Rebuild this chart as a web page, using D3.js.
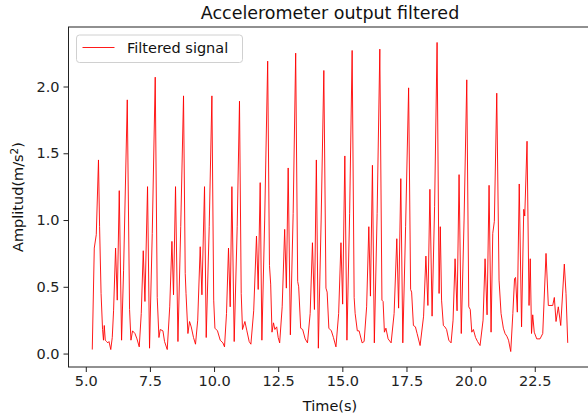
<!DOCTYPE html>
<html>
<head>
<meta charset="utf-8">
<script src="https://cdn.jsdelivr.net/npm/d3@7"></script>
<style>
  html, body { margin: 0; padding: 0; background: #fff; }
  svg { display: block; font-family: "DejaVu Sans", sans-serif; }
</style>
</head>
<body>
<svg id="chart" width="588" height="418"></svg>
<script>
// Filtered accelerometer signal: time (s) and amplitude (m/s²)
const timeS = [
  5.253, 5.331, 5.409, 5.495, 5.538, 5.596, 5.654, 5.690, 5.721, 5.760, 5.810, 5.857, 5.904, 5.974,
  6.032, 6.083, 6.161, 6.227, 6.305, 6.395, 6.473, 6.617, 6.706, 6.761, 6.823, 6.917, 6.995, 7.084,
  7.162, 7.240, 7.306, 7.407, 7.485, 7.591, 7.707, 7.785, 7.852, 7.902, 8.007, 8.070, 8.175,
  8.272, 8.358, 8.420, 8.498, 8.592, 8.701, 8.810, 8.876, 8.907, 8.981, 9.044, 9.110, 9.199, 9.277,
  9.363, 9.460, 9.527, 9.628, 9.694, 9.811, 9.916, 9.986, 10.033, 10.134, 10.240, 10.345, 10.407,
  10.485, 10.563, 10.629, 10.695, 10.785, 10.902, 10.991, 11.058, 11.108, 11.202, 11.280, 11.369, 11.436,
  11.545, 11.654, 11.720, 11.798, 11.864, 11.973, 12.090, 12.160, 12.207, 12.258, 12.316, 12.370, 12.441, 12.499, 12.557,
  12.655, 12.752, 12.818, 12.889, 12.974, 13.083, 13.181, 13.259, 13.298, 13.376, 13.454, 13.551, 13.641,
  13.746, 13.835, 13.913, 13.987, 14.065, 14.174, 14.279, 14.361, 14.408, 14.474, 14.572, 14.653, 14.751,
  14.856, 14.946, 15.012, 15.097, 15.179, 15.284, 15.382, 15.460, 15.499, 15.584, 15.654, 15.771, 15.849,
  15.947, 16.032, 16.095, 16.173, 16.247, 16.356, 16.461, 16.543, 16.589, 16.640, 16.699, 16.784, 16.901,
  17.018, 17.123, 17.193, 17.279, 17.357, 17.466, 17.583, 17.661, 17.700, 17.770, 17.848, 17.914, 18.031,
  18.167, 18.257, 18.335, 18.413, 18.498, 18.596, 18.693, 18.771, 18.818, 18.868, 18.938, 18.997, 19.063, 19.149, 19.238,
  19.316, 19.394, 19.472, 19.550, 19.636, 19.745, 19.850, 19.928, 19.986, 20.045, 20.107, 20.193, 20.271, 20.368,
  20.485, 20.563, 20.641, 20.719, 20.797, 20.863, 20.925, 21.019, 21.108, 21.186, 21.276, 21.342, 21.412, 21.478, 21.564,
  21.646, 21.712, 21.751, 21.821, 21.895, 21.985, 22.071, 22.110, 22.199, 22.277, 22.324, 22.374, 22.421, 22.480, 22.577, 22.706, 22.811,
  22.939, 23.029, 23.200, 23.263, 23.329, 23.418, 23.512, 23.652, 23.718, 23.785
];
const amplitude = [
  0.03, 0.79, 0.89, 1.45, 0.95, 0.45, 0.18, 0.10, 0.21, 0.10, 0.09, 0.08, 0.09, 0.03,
  0.12, 0.32, 0.79, 0.40, 1.22, 0.10, 0.62, 1.90, 0.33, 0.10, 0.17, 0.15, 0.11, 0.05,
  0.30, 0.77, 0.39, 1.25, 0.04, 0.90, 2.07, 0.42, 0.12, 0.18, 0.17, 0.09, 0.03,
  0.35, 0.84, 0.44, 1.25, 0.09, 0.95, 1.93, 0.60, 0.45, 0.15, 0.24, 0.20, 0.12, 0.07,
  0.25, 0.80, 0.44, 1.25, 0.12, 0.95, 1.93, 0.40, 0.19, 0.17, 0.10, 0.08, 0.05,
  0.30, 0.79, 0.35, 1.25, 0.09, 0.95, 1.89, 0.45, 0.18, 0.24, 0.17, 0.09, 0.07,
  0.32, 0.88, 0.48, 1.28, 0.10, 1.00, 2.19, 0.66, 0.52, 0.16, 0.23, 0.18, 0.20, 0.12, 0.08,
  0.35, 0.93, 0.49, 1.39, 0.14, 1.05, 2.25, 0.54, 0.50, 0.19, 0.18, 0.11, 0.08,
  0.30, 0.83, 0.33, 1.45, 0.04, 1.00, 2.12, 0.49, 0.46, 0.19, 0.17, 0.12, 0.05,
  0.30, 0.83, 0.37, 1.48, 0.10, 1.05, 2.27, 0.42, 0.30, 0.17, 0.17, 0.08, 0.09,
  0.35, 0.95, 0.43, 1.41, 0.08, 1.05, 2.28, 0.40, 0.39, 0.16, 0.19, 0.11, 0.08,
  0.30, 0.86, 0.34, 1.31, 0.08, 0.95, 1.99, 0.48, 0.46, 0.21, 0.20, 0.15, 0.06,
  0.28, 0.73, 0.36, 1.23, 0.28, 1.10, 2.33, 0.45, 0.95, 0.40, 0.21, 0.20, 0.18, 0.10, 0.08,
  0.25, 0.71, 0.32, 1.34, 0.15, 1.00, 2.05, 0.35, 0.33, 0.16, 0.18, 0.12, 0.09, 0.06,
  0.25, 0.71, 0.29, 1.26, 0.16, 0.90, 0.99, 1.95, 0.55, 0.30, 0.19, 0.15, 0.13, 0.10, 0.015,
  0.30, 0.56, 0.57, 0.31, 1.27, 0.20, 1.08, 1.03, 1.59, 0.36, 0.71, 0.15, 0.29, 0.16, 0.11, 0.11, 0.15,
  0.75, 0.36, 0.36, 0.42, 0.24, 0.35, 0.21, 0.67, 0.45, 0.08
];
const xTickValues = [5.0, 7.5, 10.0, 12.5, 15.0, 17.5, 20.0, 22.5];
const yTickValues = [0.0, 0.5, 1.0, 1.5, 2.0];
const chartTitle = "Accelerometer output filtered";
const seriesLabel = "Filtered signal";

const svg = d3.select("#chart");
const W = 588, H = 418;
const plot = { left: 68.5, top: 27, right: 591.5, bottom: 367 };

// Axis limits padded 5% beyond the data extent
const pad = ([lo, hi]) => [lo - 0.05 * (hi - lo), hi + 0.05 * (hi - lo)];
const x = d3.scaleLinear().domain(pad(d3.extent(timeS))).range([plot.left, plot.right]);
const y = d3.scaleLinear().domain(pad(d3.extent(amplitude))).range([plot.bottom, plot.top]);

svg.append("rect").attr("width", W).attr("height", H).attr("fill", "#fff");

svg.append("defs").append("clipPath").attr("id", "plotclip")
  .append("rect").attr("x", plot.left).attr("y", plot.top)
  .attr("width", plot.right - plot.left).attr("height", plot.bottom - plot.top);

// Signal trace
const pts = timeS.map((t, i) => [t, amplitude[i]]);
svg.append("path")
  .datum(pts)
  .attr("clip-path", "url(#plotclip)")
  .attr("fill", "none")
  .attr("stroke", "#ff0000")
  .attr("stroke-width", 0.9)
  .attr("stroke-linejoin", "round")
  .attr("d", d3.line().x(d => x(d[0])).y(d => y(d[1])));

// Axes
const tickFont = 14.5;
const xAxis = svg.append("g")
  .attr("transform", `translate(0,${plot.bottom})`)
  .call(d3.axisBottom(x).tickValues(xTickValues).tickFormat(d3.format(".1f")).tickSizeOuter(0).tickSize(5).tickPadding(4));
const yAxis = svg.append("g")
  .attr("transform", `translate(${plot.left},0)`)
  .call(d3.axisLeft(y).tickValues(yTickValues).tickFormat(d3.format(".1f")).tickSizeOuter(0).tickSize(5).tickPadding(4));
[xAxis, yAxis].forEach(g => {
  g.select(".domain").remove();
  g.selectAll(".tick line").attr("stroke", "#222").attr("stroke-width", 1);
  g.selectAll(".tick text").attr("fill", "#222").style("font-size", tickFont + "px")
    .style("font-family", "DejaVu Sans, sans-serif");
});

// Frame (spines)
svg.append("rect")
  .attr("x", plot.left).attr("y", plot.top)
  .attr("width", plot.right - plot.left).attr("height", plot.bottom - plot.top)
  .attr("fill", "none").attr("stroke", "#222").attr("stroke-width", 1);

// Title
svg.append("text")
  .attr("x", (plot.left + plot.right) / 2).attr("y", 19)
  .attr("text-anchor", "middle").attr("fill", "#111")
  .style("font-size", "17.5px")
  .text(chartTitle);

// Axis labels
svg.append("text")
  .attr("x", (plot.left + plot.right) / 2).attr("y", 411)
  .attr("text-anchor", "middle").attr("fill", "#111")
  .style("font-size", tickFont + "px")
  .text("Time(s)");

const yl = svg.append("text")
  .attr("transform", `translate(23,${(plot.top + plot.bottom) / 2}) rotate(-90)`)
  .attr("text-anchor", "middle").attr("fill", "#111")
  .style("font-size", tickFont + "px");
yl.append("tspan").text("Amplitud(m/s");
yl.append("tspan").attr("dy", -5).style("font-size", "10.5px").text("2");
yl.append("tspan").attr("dy", 5).text(")");

// Legend
const lg = svg.append("g");
lg.append("rect")
  .attr("x", 76.5).attr("y", 35).attr("width", 166).attr("height", 27.5)
  .attr("rx", 3).attr("fill", "#fff").attr("fill-opacity", 0.8)
  .attr("stroke", "#d0d0d0").attr("stroke-width", 1);
lg.append("line")
  .attr("x1", 82.5).attr("x2", 114.5).attr("y1", 47.5).attr("y2", 47.5)
  .attr("stroke", "#ff0000").attr("stroke-width", 0.9);
lg.append("text")
  .attr("x", 127).attr("y", 53)
  .attr("fill", "#111").style("font-size", tickFont + "px")
  .text(seriesLabel);
</script>
</body>
</html>
